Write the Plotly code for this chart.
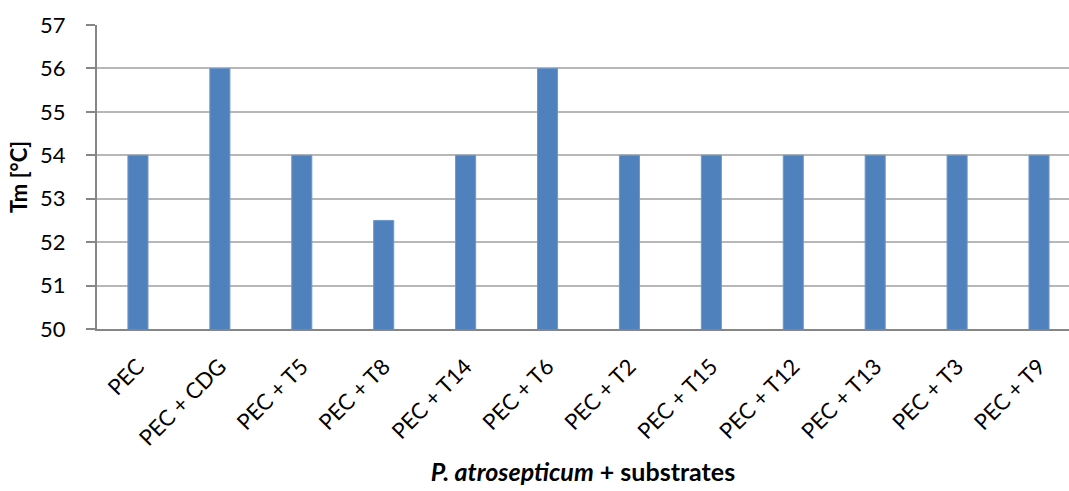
import plotly.graph_objects as go

# Melting temperature of P. atrosepticum pectate lyase with various substrates
categories = ["PEC", "PEC + CDG", "PEC + T5", "PEC + T8", "PEC + T14", "PEC + T6",
              "PEC + T2", "PEC + T15", "PEC + T12", "PEC + T13", "PEC + T3", "PEC + T9"]
tm_values = [54, 56, 54, 52.5, 54, 56, 54, 54, 54, 54, 54, 54]
y_ticks = [50, 51, 52, 53, 54, 55, 56, 57]

FONT = "Lato"
AXIS_GRAY = "#868686"
GRID_GRAY = "#B7B7B7"

fig = go.Figure(
    go.Bar(
        x=list(range(len(categories))),
        y=tm_values,
        base=0,
        width=0.245,
        marker=dict(color="#4F81BD", line=dict(color="#6F97CB", width=1)),
    )
)

fig.update_layout(
    width=1069,
    height=491,
    margin=dict(l=97, r=0, t=25, b=162),
    paper_bgcolor="white",
    plot_bgcolor="white",
    showlegend=False,
    font=dict(family=FONT, color="black"),
    xaxis=dict(
        range=[-0.5, 11.366],
        tickmode="array",
        tickvals=list(range(len(categories))),
        ticktext=categories,
        tickangle=-45,
        tickfont=dict(size=22, family=FONT),
        ticks="",
        ticklabelstandoff=14,
        showline=True,
        linecolor=AXIS_GRAY,
        linewidth=2,
        showgrid=False,
        zeroline=False,
        title=dict(
            text="<b><i>P. atrosepticum</i> + substrates</b>",
            font=dict(size=25, family=FONT),
            standoff=14,
        ),
    ),
    yaxis=dict(
        range=[50, 57],
        tickmode="array",
        tickvals=y_ticks,
        tickfont=dict(size=22, family=FONT),
        ticks="outside",
        ticklen=9,
        tickwidth=2,
        tickcolor=AXIS_GRAY,
        ticklabelstandoff=16,
        showline=True,
        linecolor=AXIS_GRAY,
        linewidth=2,
        showgrid=True,
        gridcolor=GRID_GRAY,
        gridwidth=2,
        zeroline=False,
        title=dict(
            text="<b>Tm [°C]</b>",
            font=dict(size=22, family=FONT),
            standoff=6,
        ),
    ),
)

fig.write_html("out.html")
